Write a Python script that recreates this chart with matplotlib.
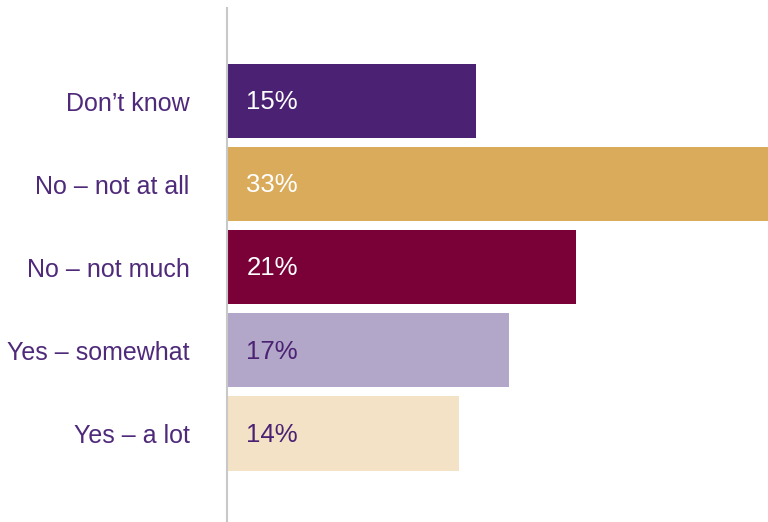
import matplotlib.pyplot as plt

# survey responses, top to bottom
labels = ["Don\u2019t know", "No \u2013 not at all", "No \u2013 not much",
          "Yes \u2013 somewhat", "Yes \u2013 a lot"]
values = [15, 33, 21, 17, 14]
bar_colors = ["#4B2273", "#D9AB5A", "#7A0038", "#B2A6C9", "#F3E2C6"]
text_colors = ["white", "white", "white", "#4B2273", "#4B2273"]

purple = "#4F2A7A"

plt.rcParams['font.family'] = ['Liberation Sans', 'DejaVu Sans']

fig = plt.figure(figsize=(7.68, 5.22), dpi=100)
ax = fig.add_axes([227 / 768, 0, 541 / 768, 514 / 522])

pos = list(range(len(labels)))
ax.barh(pos, values, height=0.9, color=bar_colors)

for p, v, tc in zip(pos, values, text_colors):
    ax.annotate(f"{v}%", xy=(0, p), xytext=(14, -1), textcoords="offset points",
                va="center", ha="left", fontsize=18.5, color=tc)

ax.set_xlim(0, 541 / 16.6)
ax.set_ylim(5.07, -1.12)
ax.set_yticks(pos)
ax.set_yticklabels(labels, fontsize=18, color=purple)
ax.tick_params(axis="y", length=0, pad=27)
ax.set_xticks([])

for side in ["top", "right", "bottom"]:
    ax.spines[side].set_visible(False)
ax.spines["left"].set_color("#C8C8C8")
ax.spines["left"].set_linewidth(1.5)

fig.savefig("out.png", dpi=100)
